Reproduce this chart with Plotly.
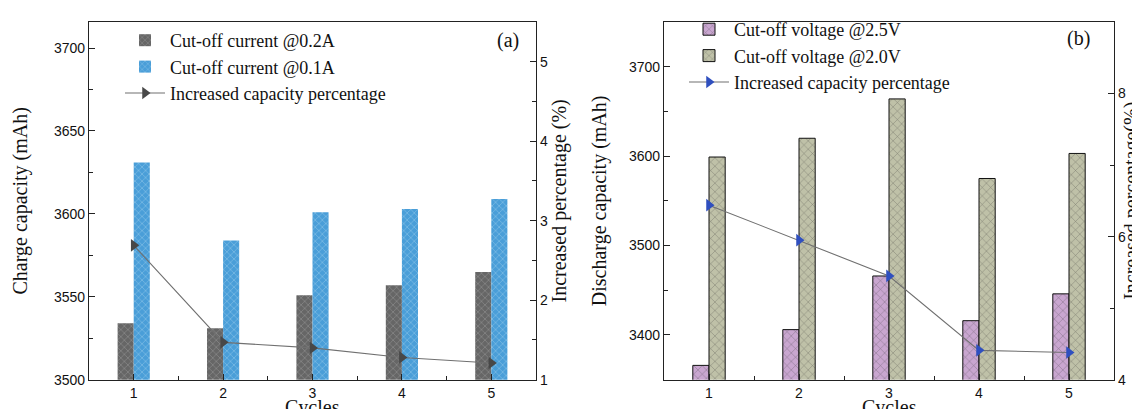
import plotly.graph_objects as go

cycles = [1, 2, 3, 4, 5]

# Panel (a): charge capacity (mAh) and increase (%)
charge_02A = [3534, 3531, 3551, 3557, 3565]
charge_01A = [3631, 3584, 3601, 3603, 3609]
charge_increase_pct = [2.69, 1.47, 1.40, 1.28, 1.21]

# Panel (b): discharge capacity (mAh) and increase (%)
discharge_25V = [3366, 3406, 3466, 3416, 3446]
discharge_20V = [3599, 3620, 3664, 3575, 3603]
discharge_increase_pct = [6.44, 5.95, 5.45, 4.41, 4.38]

SERIF = "Liberation Serif, Times New Roman, serif"
SANS = "Liberation Sans, Arial, sans-serif"

fig = go.Figure()

# ---- Panel (a)
fig.add_trace(go.Bar(
    x=cycles, y=charge_02A, name="Cut-off current @0.2A",
    xaxis="x", yaxis="y", offsetgroup="a1", legend="legend",
    marker=dict(color="#666666", line=dict(width=0),
                pattern=dict(shape="x", fgcolor="#b0b0b0", size=5, solidity=0.25)),
))
fig.add_trace(go.Bar(
    x=cycles, y=charge_01A, name="Cut-off current @0.1A",
    xaxis="x", yaxis="y", offsetgroup="a2", legend="legend",
    marker=dict(color="#4a9ed8", line=dict(width=0),
                pattern=dict(shape="x", fgcolor="#b5dcf3", size=5, solidity=0.25)),
))
fig.add_trace(go.Scatter(
    x=cycles, y=charge_increase_pct, name="Increased capacity percentage",
    xaxis="x", yaxis="y2", mode="lines+markers", legend="legend",
    line=dict(color="#707070", width=1.1),
    marker=dict(symbol="triangle-right", size=11, color="#484848"),
))

# ---- Panel (b)
fig.add_trace(go.Bar(
    x=cycles, y=discharge_25V, name="Cut-off voltage @2.5V",
    xaxis="x2", yaxis="y3", offsetgroup="b1", legend="legend2",
    marker=dict(color="#c9a6d0", line=dict(width=1, color="#111111"),
                pattern=dict(shape="x", fgcolor="#333333", size=6, solidity=0.15)),
))
fig.add_trace(go.Bar(
    x=cycles, y=discharge_20V, name="Cut-off voltage @2.0V",
    xaxis="x2", yaxis="y3", offsetgroup="b2", legend="legend2",
    marker=dict(color="#bfc1a8", line=dict(width=1, color="#111111"),
                pattern=dict(shape="x", fgcolor="#333333", size=6, solidity=0.15)),
))
fig.add_trace(go.Scatter(
    x=cycles, y=discharge_increase_pct, name="Increased capacity percentage",
    xaxis="x2", yaxis="y4", mode="lines+markers", legend="legend2",
    line=dict(color="#707070", width=1.1),
    marker=dict(symbol="triangle-right", size=11, color="#2f4fbf"),
))

ydom = [1 - 371.7 / 409, 1 - 14 / 409]
xdomA = [81 / 1140, 528 / 1140]
xdomB = [656 / 1140, 1106 / 1140]

tickfont = dict(family=SANS, size=14, color="#111111")
titlefont = dict(family=SERIF, size=20, color="#111111")

def xax(domain, anchor):
    return dict(
        domain=domain, anchor=anchor, range=[0.5, 5.5], tickmode="array",
        tickvals=cycles, ticks="inside", ticklen=6, tickcolor="#222",
        showline=True, linecolor="#222", linewidth=1.3, mirror=True,
        showgrid=False, zeroline=False, tickfont=tickfont,
        minor=dict(ticks="inside", ticklen=4, dtick=0.5, tick0=0.5, tickcolor="#222"),
        automargin=False,
    )

def yax(domain, anchor, rng, dtick, mdtick, title, side="left", overlaying=None, standoff=8):
    d = dict(
        domain=domain, anchor=anchor, range=rng, dtick=dtick, side=side,
        ticks="inside", ticklen=6, tickcolor="#222",
        showline=True, linecolor="#222", linewidth=1.3,
        showgrid=False, zeroline=False, tickfont=tickfont,
        minor=dict(ticks="inside", ticklen=4, dtick=mdtick, tickcolor="#222"),
        automargin=False,
    )
    if title:
        d["title"] = dict(text=title, font=titlefont, standoff=standoff)
    if overlaying:
        d["overlaying"] = overlaying
    return d

ymid = (ydom[0] + ydom[1]) / 2

fig.update_layout(
    width=1140, height=409,
    margin=dict(l=0, r=0, t=0, b=0),
    paper_bgcolor="white", plot_bgcolor="white",
    barmode="group", bargap=0.64, bargroupgap=0,
    xaxis=xax(xdomA, "y"),
    yaxis=yax(ydom, "x", [3500, 3715.7], 50, 25, "Charge capacity (mAh)", standoff=20),
    yaxis2=yax(ydom, "x", [1, 5.5], 1, 0.5, "Increased percentage (%)", side="right",
               overlaying="y", standoff=5),
    xaxis2=xax(xdomB, "y3"),
    yaxis3=yax(ydom, "x2", [3350, 3750], 100, 50, "Discharge capacity (mAh)", standoff=16),
    yaxis4=yax(ydom, "x2", [4, 9], 2, 1, None, side="right", overlaying="y3"),
    legend=dict(x=112 / 1140, y=1 - 14 / 409, xanchor="left", yanchor="top",
                bgcolor="rgba(0,0,0,0)", font=dict(family=SERIF, size=18, color="#111"),
                tracegroupgap=0, itemwidth=40),
    legend2=dict(x=676 / 1140, y=1 - 3 / 409, xanchor="left", yanchor="top",
                 bgcolor="rgba(0,0,0,0)", font=dict(family=SERIF, size=18, color="#111"),
                 tracegroupgap=0, itemwidth=40),
    annotations=[
        dict(text="(a)", x=500 / 1140, y=1 - 33 / 409, xref="paper", yref="paper",
             xanchor="center", yanchor="middle",
             showarrow=False, font=dict(family=SERIF, size=20, color="#111")),
        dict(text="(b)", x=1070 / 1140, y=1 - 31 / 409, xref="paper", yref="paper",
             xanchor="center", yanchor="middle",
             showarrow=False, font=dict(family=SERIF, size=20, color="#111")),
        dict(text="Cycles", x=sum(xdomA) / 2, y=1 - 386 / 409, xref="paper", yref="paper",
             xanchor="center", yanchor="top",
             showarrow=False, font=titlefont),
        dict(text="Cycles", x=sum(xdomB) / 2, y=1 - 386 / 409, xref="paper", yref="paper",
             xanchor="center", yanchor="top",
             showarrow=False, font=titlefont),
        dict(text="Increased percentage(%)", x=1124 / 1140, y=ymid, xref="paper", yref="paper",
             xanchor="center", yanchor="middle", textangle=-90,
             showarrow=False, font=titlefont),
    ],
    showlegend=True,
)

fig.write_html("out.html")
